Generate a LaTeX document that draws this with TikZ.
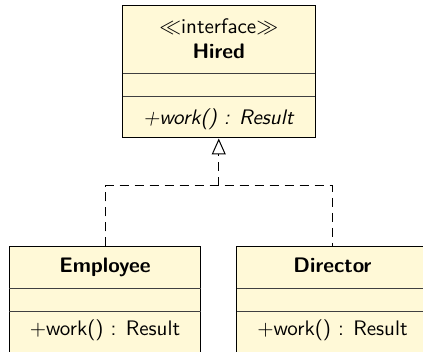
\documentclass[tikz,border=0pt]{standalone}
\usetikzlibrary{arrows.meta}
\definecolor{umlfill}{RGB}{255,249,215}
\tikzset{
  classbox/.style={draw=black, fill=umlfill, line width=0.5pt, inner sep=0pt},
  divider/.style={draw=black!75, line width=0.5pt},
  label/.style={font=\fontsize{10.5pt}{12pt}\selectfont\sffamily, inner sep=0pt, anchor=base},
  realize/.style={draw=black, line width=0.5pt, dash pattern=on 4.5pt off 3pt},
  opentip/.style={-{Triangle[open, length=8pt, width=7pt, fill=white]}}
}
\begin{document}
\begin{tikzpicture}[x=0.5pt, y=-0.5pt]
  \useasboundingbox (0,0) rectangle (423,352);
  \clip (0,0) rectangle (423,352);

  % interface Hired
  \node[classbox, minimum width=96.25pt, minimum height=66pt] (hired) at (218.75,72) {};
  \draw[divider] (122.5,74) -- (315,74);
  \draw[divider] (122.5,97) -- (315,97);
  \node[label] (hiredstereo) at (218.75,33.5) {$\ll$interface$\gg$};
  \node[label] (hiredname) at (218.75,58.5) {\textbf{Hired}};
  \node[label] (hiredop) at (218.75,125) {\textit{+work() : Result}};

  % class Employee
  \node[classbox, minimum width=95.75pt, minimum height=53pt] (emp) at (105,300) {};
  \draw[divider] (9.25,289) -- (200.75,289);
  \draw[divider] (9.25,311.5) -- (200.75,311.5);
  \node[label] (empname) at (105,272.5) {\textbf{Employee}};
  \node[label] (empop) at (105,335.5) {+work() : Result};

  % class Director
  \node[classbox, minimum width=95.75pt, minimum height=53pt] (dir) at (332.5,300) {};
  \draw[divider] (236.75,289) -- (428.25,289);
  \draw[divider] (236.75,311.5) -- (428.25,311.5);
  \node[label] (dirname) at (332.5,272.5) {\textbf{Director}};
  \node[label] (dirop) at (332.5,335.5) {+work() : Result};

  % realization arrows
  \coordinate (join) at (218.75,186);
  \draw[realize] (emp.north) |- (join) -| (dir.north);
  \draw[realize, opentip] (join) -- (hired.south);
\end{tikzpicture}
\end{document}
